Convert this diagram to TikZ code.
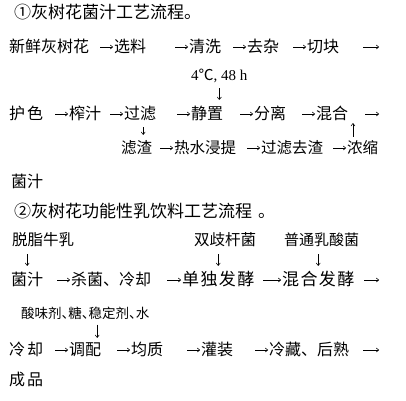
\documentclass[tikz,border=0pt]{standalone}
\usepackage{fontspec}
\setmainfont{Noto Sans CJK SC}
\newfontfamily\serif{Liberation Serif}
\usetikzlibrary{arrows.meta}
\newcommand\dun{\makebox[0.5em][l]{、}}
\tikzset{
word/.style={ % one step of the process
anchor=west,
inner sep=0pt,
font=\fontsize{16}{16}\selectfont,
text height=13pt,
text depth=3pt},
small/.style={word, font=\fontsize{15.5}{15.5}\selectfont},
tiny/.style={word, font=\fontsize{13.5}{13.5}\selectfont, text height=10.5pt, text depth=2.5pt},
wide/.style={word, font=\fontsize{17}{17}\selectfont\addfontfeatures{LetterSpace=8}},
ttl/.style={word, font=\fontsize{17}{17}\selectfont},
flow/.style={ % arrows between steps
draw,
-{To[length=3pt,width=4.5pt]},
line width=0.55pt,
shorten >=1pt}}

\begin{document}
\begin{tikzpicture}[x=1pt, y=-1pt]
\useasboundingbox (0,0) rectangle (406,400);
% juice
\node[ttl] (t1) at (14,13) {①灰树花菌汁工艺流程。};
\node[word] (xs) at (9,47) {新鲜灰树花};
\node[word] (xl) at (114,47) {选料};
\node[word] (qx) at (189,47) {清洗};
\node[word] (qz) at (247,47) {去杂};
\node[word] (qk) at (307,47) {切块};
\coordinate (e1) at (380,47);
\draw (xs) edge[flow, shorten <=11pt] (xl);
\draw (xl) edge[flow, shorten <=29pt] (qx);
\draw (qx) edge[flow, shorten <=12pt] (qz);
\draw (qz) edge[flow, shorten <=14pt] (qk);
\draw (qk) edge[flow, shorten <=24pt] (e1);
\node[small, font=\fontsize{15}{15}\selectfont] (wd) at (191,75) {{\serif 4}℃{\serif , 48 h}};
\node[word] (hs) at (9,114) {护\hspace{2pt}色};
\node[word] (zz) at (69,114) {榨汁};
\node[word] (gl) at (124,114) {过滤};
\node[word] (jz) at (191,114) {静置};
\node[word] (fl) at (254,114) {分离};
\node[word] (hh) at (316,114) {混合};
\coordinate (e2) at (380,114);
\draw (hs) edge[flow, shorten <=12pt] (zz);
\draw (zz) edge[flow, shorten <=9pt] (gl);
\draw (gl) edge[flow, shorten <=21pt] (jz);
\draw (jz) edge[flow, shorten <=17pt] (fl);
\draw (fl) edge[flow, shorten <=16pt] (hh);
\draw (hh) edge[flow, shorten <=17pt] (e2);
\draw (wd.south) edge[flow, shorten <=5pt, shorten >=6pt] (wd.south |- jz.north);
\node[small] (lz) at (121,148) {滤渣};
\node[small] (rs) at (174,148) {热水浸提};
\node[small] (gq) at (261,148) {过滤去渣};
\node[small] (ns) at (347,148) {浓缩};
\draw (lz) edge[flow, shorten <=8pt] (rs);
\draw (rs) edge[flow, shorten <=11pt] (gq);
\draw (gq) edge[flow, shorten <=10pt] (ns);
\draw ([xshift=3pt]gl.south) edge[flow, shorten <=5pt, shorten >=5pt] ([xshift=3pt]gl.south |- lz.north);
\draw ([xshift=6pt]ns.north west) edge[flow, shorten <=3pt, shorten >=1pt] ([xshift=6pt]ns.north west |- hh.south);
\node[word] (jzy) at (11,182) {菌汁};
% milk drink
\node[ttl] (t2) at (14,212) {②灰树花功能性乳饮料工艺流程\hspace{6pt}。};
\node[small] (tz) at (12,240) {脱脂牛乳};
\node[small] (sq) at (194,240) {双歧杆菌};
\node[small, font=\fontsize{15}{15}\selectfont] (pt) at (284,240) {普通乳酸菌};
\node[word] (jzh) at (11,280) {菌汁};
\node[word] (sj) at (71,280) {杀菌、冷却};
\node[wide] (dd) at (182,280) {单独发酵};
\node[wide] (hf) at (282,280) {混合发酵};
\coordinate (e3) at (380,280);
\draw (jzh) edge[flow, shorten <=14pt] (sj);
\draw (sj) edge[flow, shorten <=16pt] (dd);
\draw (dd) edge[flow, shorten <=9pt] (hf);
\draw (hf) edge[flow, shorten <=10pt] (e3);
\draw (tz.south -| jzh.north) edge[flow, shorten <=6pt, shorten >=6pt] (jzh.north);
\draw (sq.south -| dd.north) edge[flow, shorten <=6pt, shorten >=6pt] (dd.north);
\draw (pt.south -| hf.north) edge[flow, shorten <=6pt, shorten >=6pt] (hf.north);
\node[tiny] (fj) at (21,314) {酸味剂\dun 糖\dun 稳定剂\dun 水};
\node[word] (lq) at (9,350) {冷\hspace{2pt}却};
\node[word] (tp) at (69,350) {调配};
\node[word] (jq) at (131,350) {均质};
\node[word] (gz) at (201,350) {灌装};
\node[word] (lc) at (269,350) {冷藏、后熟};
\coordinate (e4) at (380,350);
\draw (lq) edge[flow, shorten <=12pt] (tp);
\draw (tp) edge[flow, shorten <=16pt] (jq);
\draw (jq) edge[flow, shorten <=24pt] (gz);
\draw (gz) edge[flow, shorten <=22pt] (lc);
\draw (lc) edge[flow, shorten <=14pt] (e4);
\draw ([xshift=12pt]tp.north |- fj.south) edge[flow, shorten <=4pt, shorten >=4pt] ([xshift=12pt]tp.north);
\node[word] (cp) at (9,380) {成\hspace{2pt}品};
\end{tikzpicture}
\end{document}
